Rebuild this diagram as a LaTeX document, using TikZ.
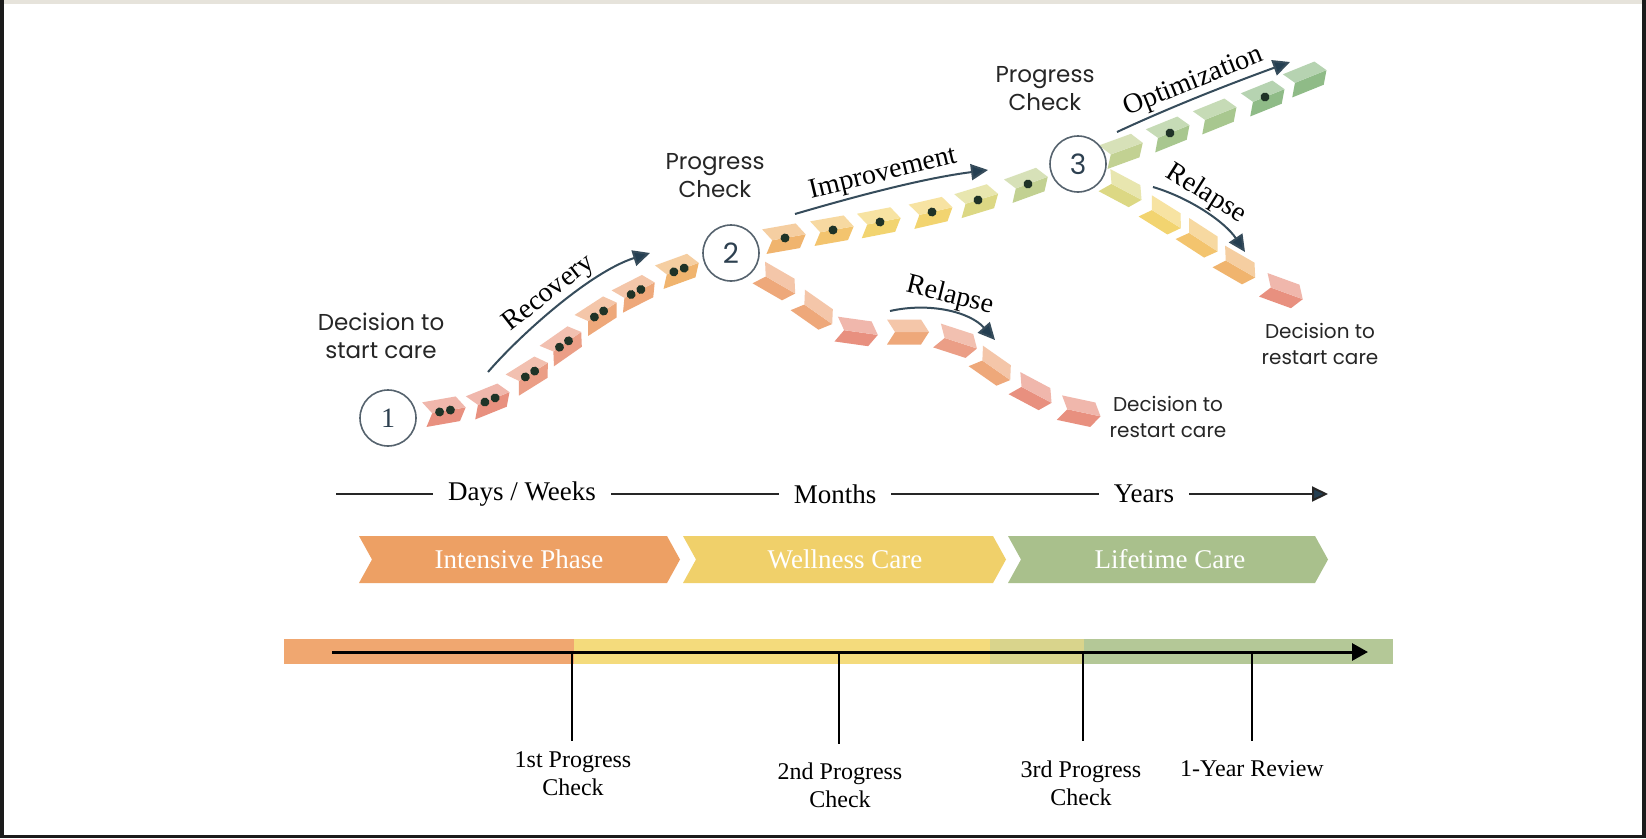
\documentclass[tikz,border=0pt]{standalone}
\usepackage{fontspec}
\setmainfont{Liberation Serif}
\newfontfamily\geofont{Poppins}
\usetikzlibrary{arrows.meta, calc}

\definecolor{navy}{HTML}{243F52}
\definecolor{dotc}{HTML}{1F3327}
\definecolor{ringc}{HTML}{56636E}
\definecolor{numc}{HTML}{2D4050}
\definecolor{edge}{HTML}{1B1B1B}
\definecolor{topbar}{HTML}{E6E3DB}
% chevron colours, salmon -> green
\definecolor{chA}{HTML}{E8907F}
\definecolor{chB}{HTML}{EB9E86}
\definecolor{chC}{HTML}{EEA87A}
\definecolor{chD}{HTML}{F0B46E}
\definecolor{chE}{HTML}{F3C46E}
\definecolor{chF}{HTML}{F2D470}
\definecolor{chG}{HTML}{DCD884}
\definecolor{chH}{HTML}{C2D192}
\definecolor{chI}{HTML}{A8C78F}
\definecolor{chJ}{HTML}{8FBB87}
% phases and bar
\definecolor{phOrange}{HTML}{EDA064}
\definecolor{phYellow}{HTML}{F0D06A}
\definecolor{phGreen}{HTML}{A9C08C}
\definecolor{barOrange}{HTML}{F0A770}
\definecolor{barYellow}{HTML}{F4DB7C}
\definecolor{barMix}{HTML}{D9D48C}
\definecolor{barGreen}{HTML}{B4C897}

\tikzset{
  pics/chev/.style n args={2}{code={
    \fill[fill=#1] (-13,0) -- (-21,12.5) -- (13,12.5) -- (21,0) -- cycle;
    \fill[fill=#1!65!white] (-13,0) -- (-21,-12.5) -- (13,-12.5) -- (21,0) -- cycle;
    \ifcase#2\or
      \fill[dotc] (0,0) circle (4.5);
    \or
      \fill[dotc] (-5.5,0) circle (4.5);
      \fill[dotc] (5.5,0) circle (4.5);
    \fi
  }},
}

\begin{document}
\begin{tikzpicture}[x=1pt, y=-1pt,
    stepnum/.style={circle, draw=ringc, line width=1.6pt, fill=white, minimum size=56pt,
      inner sep=0pt, text=numc, font=\geofont\fontsize{28}{28}\selectfont},
    sanslbl/.style={align=center, text=black!85, font=\geofont\fontsize{23}{28}\selectfont},
    smallsans/.style={align=center, text=black!85, font=\geofont\fontsize{20}{26}\selectfont},
    pathlbl/.style={font=\fontsize{28}{28}\selectfont, inner sep=2pt},
    trend/.style={draw=navy!80!gray, line width=2pt, -{Triangle[length=17pt,width=16pt,fill=navy]}},
    scalelbl/.style={font=\fontsize{27}{27}\selectfont, inner sep=15pt},
    phaselbl/.style={text=white, font=\fontsize{27}{27}\selectfont},
    checklbl/.style={align=center, font=\fontsize{24}{28}\selectfont}]

  % screen frame
  \fill[white] (0,0) rectangle (1646,838);
  \fill[edge] (0,0) rectangle (4,838);
  \fill[edge] (1642,0) rectangle (1646,838);
  \fill[edge] (0,835) rectangle (1646,838);
  \fill[topbar] (4,0) rectangle (1642,4);

  % recovery path
  \foreach \px/\py/\pa/\pc/\pd in {445/411/10/chA/2, 490/400/22/chA/2, 530/374/32/chB/2,
      564/344/35/chB/2, 599/314/33/chC/2, 636/292/27/chC/2, 679/270/20/chD/2}
    \pic[rotate=\pa] at (\px,\py) {chev={\pc}{\pd}};

  % improvement path
  \foreach \px/\py/\pa/\pc/\pd in {785/238/10/chD/1, 833/230/10/chE/1, 880/222/11/chF/1,
      932/212/13/chF/1, 978/200/17/chG/1, 1028/184/20/chH/1}
    \pic[rotate=\pa] at (\px,\py) {chev={\pc}{\pd}};

  % optimization path
  \foreach \px/\py/\pa/\pc/\pd in {1123/150/20/chH/0, 1170/133/22/chI/1, 1217/115/22/chI/0,
      1265/97/22/chJ/1, 1307/78/22/chJ/0}
    \pic[rotate=\pa] at (\px,\py) {chev={\pc}{\pd}};

  % relapse after check 3
  \foreach \px/\py/\pa/\pc/\pd in {1123/190/-28/chG/0, 1163/217/-32/chF/0, 1200/240/-33/chE/0,
      1237/267/-30/chD/0, 1283/292/-20/chA/0}
    \pic[rotate=\pa] at (\px,\py) {chev={\pc}{\pd}};

  % relapse after check 2
  \foreach \px/\py/\pa/\pc/\pd in {777/283/-30/chC/0, 815/312/-35/chC/0, 857/332/-8/chA/0,
      908/332/0/chC/0, 957/342/-18/chB/0, 993/368/-35/chC/0, 1033/393/-28/chA/0, 1080/412/-12/chA/0}
    \pic[rotate=\pa] at (\px,\py) {chev={\pc}{\pd}};

  % checkpoints
  \node[stepnum, font=\fontsize{28}{28}\selectfont] (c1) at (388,418) {1};
  \node[stepnum] (c2) at (731,253) {2};
  \node[stepnum] (c3) at (1078,164) {3};

  \node[sanslbl] (startlbl) at (381,336) {Decision to\\start care};
  \node[sanslbl] (pc2lbl) at (715,176) {Progress\\Check};
  \node[sanslbl] (pc3lbl) at (1045,89) {Progress\\Check};
  \node[smallsans] (rs2lbl) at (1168,417) {Decision to\\restart care};
  \node[smallsans] (rs3lbl) at (1320,344) {Decision to\\restart care};

  % trend arrows
  \coordinate (recA) at (488,372);
  \coordinate (recB) at (650,253);
  \draw[trend] (recA) .. controls (520,335) and (590,272) .. node[pathlbl, sloped, above] {Recovery} (recB);
  \coordinate (impA) at (795,214);
  \coordinate (impB) at (988,170);
  \draw[trend] (impA) .. controls (860,195) and (925,178) .. node[pathlbl, sloped, above, pos=0.47] {Improvement} (impB);
  \coordinate (optA) at (1117,132);
  \coordinate (optB) at (1290,62);
  \draw[trend] (optA) .. controls (1175,105) and (1235,82) .. node[pathlbl, sloped, above, pos=0.47] {Optimization} (optB);
  \coordinate (relA) at (890,311);
  \coordinate (relB) at (995,340);
  \draw[trend] (relA) .. controls (930,302) and (970,312) .. node[pathlbl, sloped, above, pos=0.48] {Relapse} (relB);
  \coordinate (relC) at (1153,187);
  \coordinate (relD) at (1245,252);
  \draw[trend] (relC) .. controls (1190,198) and (1225,222) .. node[pathlbl, sloped, above, pos=0.42] {Relapse} (relD);

  % time scale
  \coordinate (tsL) at (336,494);
  \coordinate (tsR) at (1328,494);
  \node[scalelbl] (days) at (522,494) {Days / Weeks};
  \node[scalelbl] (months) at (835,494) {Months};
  \node[scalelbl] (years) at (1144,494) {Years};
  \draw[line width=2pt, black!85] (tsL) -- (days) -- (months) -- (years);
  \draw[line width=2pt, black!85, -{Triangle[length=16pt,width=15pt,fill=navy]}] (years) -- (tsR);

  % care phases
  \foreach \xa/\xb/\pc in {359/680/phOrange, 683/1006/phYellow, 1008/1328/phGreen}
    \fill[\pc] (\xa,536) -- (\xb-13,536) -- (\xb,559.5) -- (\xb-13,583) -- (\xa,583) -- (\xa+13,559.5) -- cycle;
  \node[phaselbl] (ph1) at (519,559) {Intensive Phase};
  \node[phaselbl] (ph2) at (845,559) {Wellness Care};
  \node[phaselbl] (ph3) at (1170,559) {Lifetime Care};

  % progress bar
  \fill[barOrange] (284,639) rectangle (574,664);
  \fill[barYellow] (574,639) rectangle (990,664);
  \fill[barMix] (990,639) rectangle (1084,664);
  \fill[barGreen] (1084,639) rectangle (1393,664);
  \coordinate (barL) at (332,652);
  \coordinate (barR) at (1368,652);
  \draw[line width=3pt, -{Triangle[length=16pt,width=17pt]}] (barL) -- (barR);

  \foreach \n/\mx/\my in {1/572/741, 2/839/744, 3/1083/741, 4/1252/741} {
    \coordinate (m\n) at (\mx,652);
    \coordinate (e\n) at (\mx,\my);
    \draw[line width=1.6pt] (m\n) -- (e\n);
  }
  \node[checklbl] (chk1) at (573,774) {1st Progress\\Check};
  \node[checklbl] (chk2) at (840,785) {2nd Progress\\Check};
  \node[checklbl] (chk3) at (1081,783) {3rd Progress\\Check};
  \node[checklbl] (chk4) at (1252,769) {1-Year Review};
\end{tikzpicture}
\end{document}
